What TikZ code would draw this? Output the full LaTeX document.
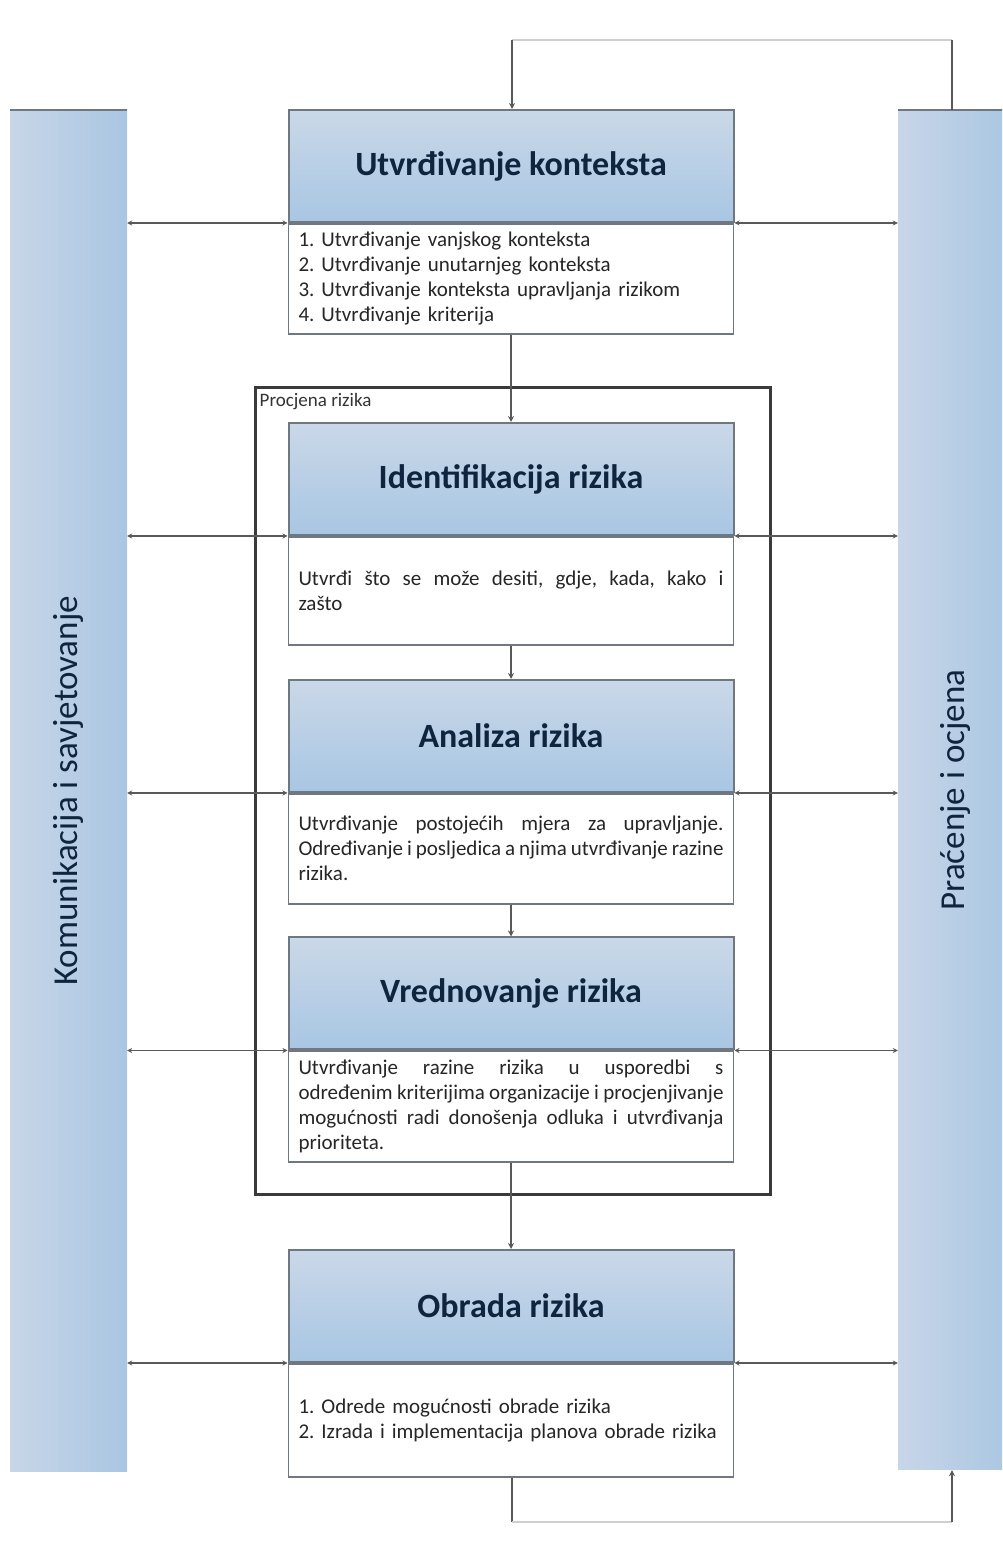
\documentclass[tikz,border=0pt]{standalone}
\usepackage{fontspec}
\setmainfont{Carlito}
\usetikzlibrary{arrows.meta,calc}
\frenchspacing
\definecolor{hdtop}{HTML}{CAD8E8}
\definecolor{hdbot}{HTML}{A8C6E3}
\definecolor{barl}{HTML}{C8D6E8}
\definecolor{barr}{HTML}{A9C6E2}
\definecolor{navy}{HTML}{0F243E}
\definecolor{boxgray}{HTML}{6F7780}
\definecolor{outerc}{HTML}{3A3A3A}
\definecolor{lightline}{HTML}{CFCFCF}
\newcommand{\nohy}{\hyphenchar\font=-1 \hyphenpenalty=10000 }
\tikzset{
  header/.style={draw=boxgray, line width=2pt, top color=hdtop, bottom color=hdbot,
    minimum width=445pt, minimum height=112pt, inner sep=0pt, text=navy,
    font=\fontsize{34}{38}\selectfont\bfseries},
  textbox/.style={draw=boxgray, line width=1.6pt, fill=white, minimum width=445pt,
    inner xsep=10pt, inner ysep=4pt, text width=425pt, text=black!85,
    font=\fontsize{21}{25}\selectfont},
  bar/.style={left color=barl, right color=barr, draw=none, inner sep=0pt},
  bartext/.style={rotate=90, text=navy, font=\fontsize{35}{40}\selectfont},
  conn/.style={draw=black!65, line width=1.3pt},
  lconn/.style={draw=lightline, line width=1.5pt},
  tip/.style={-{Stealth[length=6pt,width=6pt]}},
  hconn/.style={draw=black!65, line width=1.3pt, {Stealth[length=5pt,width=5pt]}-{Stealth[length=5pt,width=5pt]}},
}
\begin{document}
\begin{tikzpicture}[x=1pt,y=1pt]
\clip (0,0) rectangle (1002,1541);
\fill[white] (0,0) rectangle (1002,1541);

% side bars
\node[bar, minimum width=117pt, minimum height=1362pt] (L) at (68.5,750) {};
\node[bar, minimum width=114pt, minimum height=1360pt] (R) at (955,751) {};
\draw[boxgray, line width=2pt] (L.north west) -- (L.north east);
\draw[boxgray, line width=2pt] (R.north west) -- (R.north east);
\node[bartext] (Ltext) at (L.center) {Komunikacija i savjetovanje};
\node[bartext] (Rtext) at (R.center) {Praćenje i ocjena};

% outer box Procjena rizika
\node[draw=outerc, line width=3pt, minimum width=515pt, minimum height=807pt, inner sep=0pt] (P) at (512.5,749.5) {};
\node[anchor=north west, inner sep=2pt, font=\fontsize{19}{21}\selectfont, text=black!80] (Plabel) at ([xshift=4pt,yshift=-5pt]P.north west) {Procjena rizika};

% main column
\node[header] (h1) at (511,1375) {Utvrđivanje konteksta};
\node[textbox, minimum height=110pt, anchor=north, align=left] (t1) at (h1.south) {1. Utvrđivanje vanjskog konteksta\\2. Utvrđivanje unutarnjeg konteksta\\3. Utvrđivanje konteksta upravljanja rizikom\\4. Utvrđivanje kriterija};

\node[header] (h2) at (511,1062) {Identifikacija rizika};
\node[textbox, minimum height=108pt, anchor=north, align=justify] (t2) at (h2.south) {\nohy Utvrđi što se može desiti, gdje, kada, kako i\linebreak zašto};

\node[header] (h3) at (511,805) {Analiza rizika};
\node[textbox, minimum height=110pt, anchor=north, align=justify] (t3) at (h3.south) {\nohy Utvrđivanje postojećih mjera za upravljanje. Određivanje i posljedica a njima utvrđivanje razine rizika.};

\node[header] (h4) at (511,547.5) {Vrednovanje rizika};
\node[textbox, minimum height=111pt, anchor=north, align=justify] (t4) at (h4.south) {\nohy Utvrđivanje razine rizika u usporedbi s određenim kriterijima organizacije i procjenjivanje mogućnosti radi donošenja odluka i utvrđivanja prioriteta.};

\node[header] (h5) at (511,235) {Obrada rizika};
\node[textbox, minimum height=113pt, anchor=north, align=left] (t5) at (h5.south) {1. Odrede mogućnosti obrade rizika\\2. Izrada i implementacija planova obrade rizika};

% vertical flow
\draw[conn, tip] (t1.south) -- (h2.north);
\draw[conn, tip] (t2.south) -- (h3.north);
\draw[conn, tip] (t3.south) -- (h4.north);
\draw[conn, tip] (t4.south) -- (h5.north);

% horizontal links to side bars
\foreach \h in {h1,h2,h3,h4,h5}{
  \draw[hconn] (\h.south west) -- (\h.south west -| L.east);
  \draw[hconn] (\h.south east) -- (\h.south east -| R.west);
}

% top loop
\coordinate (tl) at (512,1501);
\coordinate (tr) at (952,1501);
\draw[lconn] (tl) -- (tr);
\draw[conn, tip] (tl) -- (tl |- h1.north);
\draw[conn] (tr) -- (tr |- R.north);

% bottom loop
\coordinate (bl) at (512,19);
\coordinate (br) at (952,19);
\draw[conn] (t5.south -| bl) -- (bl);
\draw[lconn] (bl) -- (br);
\draw[conn, tip] (br) -- (br |- R.south);
\end{tikzpicture}
\end{document}
